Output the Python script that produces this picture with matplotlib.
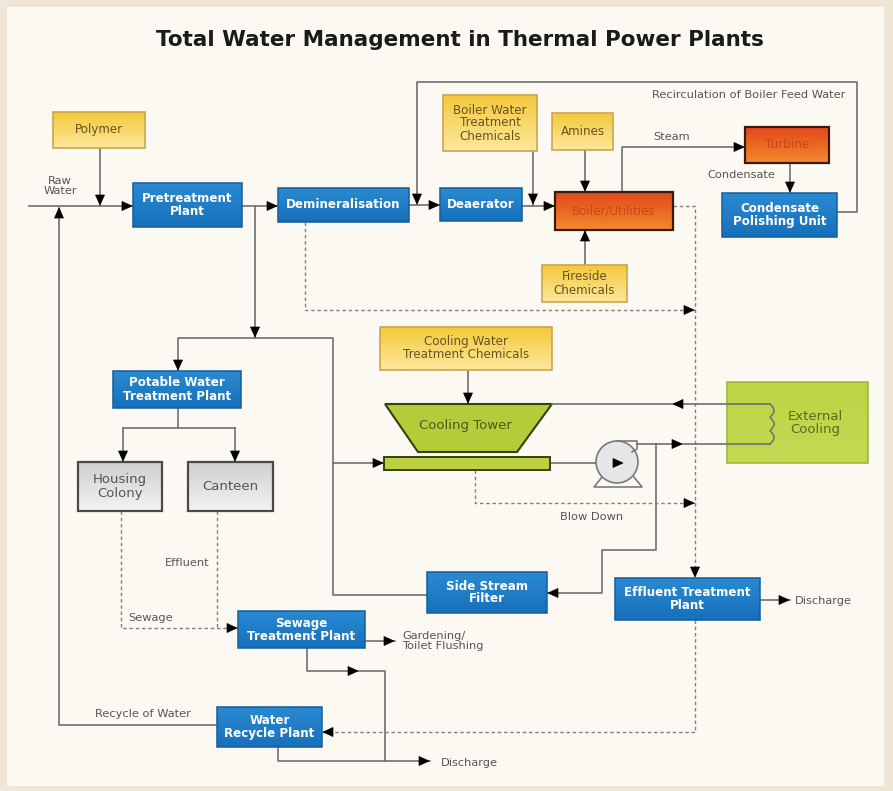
import numpy as np
import matplotlib
matplotlib.use("Agg")
import matplotlib.pyplot as plt
from matplotlib.patches import Rectangle, Polygon, Circle
from matplotlib.colors import LinearSegmentedColormap

plt.rcParams['font.family'] = ['DejaVu Sans']

# --- content: node labels and flow labels ---
TITLE = "Total Water Management in Thermal Power Plants"

node_keys = ["polymer", "pretreat", "demin", "deaerator", "bwtc", "amines",
             "boiler", "fireside", "turbine", "cpu", "potable", "housing",
             "canteen", "cwtc", "extcool", "ssf", "etp", "stp", "wrp"]
node_labels = ["Polymer", "Pretreatment\nPlant", "Demineralisation", "Deaerator",
               "Boiler Water\nTreatment\nChemicals", "Amines", "Boiler/Utilities",
               "Fireside\nChemicals", "Turbine", "Condensate\nPolishing Unit",
               "Potable Water\nTreatment Plant", "Housing\nColony", "Canteen",
               "Cooling Water\nTreatment Chemicals", "External\nCooling",
               "Side Stream\nFilter", "Effluent Treatment\nPlant",
               "Sewage\nTreatment Plant", "Water\nRecycle Plant"]
node_kinds = ["chem", "unit", "unit", "unit", "chem", "chem", "hot", "chem",
              "hot", "unit", "unit", "user", "user", "chem", "green", "unit",
              "unit", "unit", "unit"]

flow_labels = ["Raw\nWater", "Recirculation of Boiler Feed Water", "Steam",
               "Condensate", "Blow Down", "Effluent", "Sewage",
               "Gardening/\nToilet Flushing", "Recycle of Water", "Discharge",
               "Discharge"]

# --- layout (pixel coordinates, y downwards) ---
BOX = {
    "polymer": (53, 112, 145, 148), "pretreat": (133, 183, 242, 227),
    "demin": (278, 188, 409, 222), "deaerator": (440, 188, 522, 221),
    "bwtc": (443, 95, 537, 151), "amines": (552, 113, 613, 150),
    "boiler": (555, 192, 673, 230), "fireside": (542, 265, 627, 302),
    "turbine": (745, 127, 829, 163), "cpu": (722, 193, 837, 237),
    "potable": (113, 371, 241, 408), "housing": (78, 462, 162, 511),
    "canteen": (188, 462, 273, 511), "cwtc": (380, 327, 552, 370),
    "extcool": (727, 382, 868, 463), "ssf": (427, 572, 547, 613),
    "etp": (615, 578, 760, 620), "stp": (238, 611, 365, 648),
    "wrp": (217, 707, 322, 747),
}
LABEL_POS = [(60, 186), (845, 95), (672, 137), (775, 175), (592, 517),
             (210, 563), (128, 618), (402, 641), (143, 714), (795, 601),
             (441, 763)]
LABEL_HA = ["center", "right", "center", "right", "center", "right", "left",
            "left", "center", "left", "left"]

STYLE = {
    "unit": dict(top="#2a8ad2", bot="#1670ba", edge="#145f9c", text="white",
                 weight="bold", size=8.6),
    "chem": dict(top="#f4c93c", bot="#fde89c", edge="#c9a046", text="#6b5222",
                 weight="normal", size=8.6),
    "hot": dict(top="#e2481a", bot="#f38a2c", edge="#3a1a0a", text="#c8461c",
                weight="normal", size=8.6),
    "user": dict(top="#cfcfcf", bot="#f3f3f3", edge="#4a4a4a", text="#555555",
                 weight="normal", size=9.5),
    "green": dict(top="#bcd444", bot="#c4da52", edge="#9ab43a", text="#5a6a20",
                  weight="normal", size=9.5),
}

LINE = "#707070"
DASH = "#808080"


def grad_box(ax, x0, y0, x1, y1, top, bot, edge, lw=1.2):
    cmap = LinearSegmentedColormap.from_list("g", [top, bot])
    grad = np.linspace(0, 1, 64).reshape(-1, 1)
    im = ax.imshow(grad, cmap=cmap, extent=(x0, x1, y1, y0), aspect="auto",
                   interpolation="bicubic", zorder=3)
    rect = Rectangle((x0, y0), x1 - x0, y1 - y0, facecolor="none",
                     edgecolor=edge, lw=lw, zorder=4)
    ax.add_patch(rect)
    im.set_clip_path(rect)


def pipe(ax, pts, dashed=False, z=2):
    xs, ys = zip(*pts)
    if dashed:
        ax.plot(xs, ys, color=DASH, lw=1.0, ls=(0, (2.5, 2)), zorder=z)
    else:
        ax.plot(xs, ys, color=LINE, lw=1.2, zorder=z)


def arrow(ax, x, y, d, L=10, W=4.5):
    vec = {"r": (1, 0), "l": (-1, 0), "d": (0, 1), "u": (0, -1)}[d]
    dx, dy = vec
    bx, by = x - dx * L, y - dy * L
    px, py = -dy * W, dx * W
    tri = Polygon([(x, y), (bx + px, by + py), (bx - px, by - py)],
                  closed=True, facecolor="black", edgecolor="black", lw=0.5,
                  zorder=6)
    ax.add_patch(tri)


fig = plt.figure(figsize=(8.93, 7.91), dpi=100)
ax = fig.add_axes([0, 0, 1, 1])
ax.set_axis_off()
fig.patch.set_facecolor("#efe6d6")
ax.add_patch(Rectangle((7, 7), 877, 779, facecolor="#fbf9f1", edgecolor="none",
                       zorder=0))

ax.text(460, 40, TITLE, ha="center", va="center", fontsize=15.5,
        fontweight="bold", color="#1a1a1a")

# --- solid pipes ---
solid = [
    [(29, 206), (133, 206)], [(100, 148), (100, 206)], [(59, 208), (59, 725), (217, 725)],
    [(242, 206), (278, 206)], [(255, 206), (255, 338)],
    [(409, 205), (440, 205)], [(837, 212), (857, 212), (857, 82), (417, 82), (417, 205)],
    [(522, 206), (555, 206)], [(533, 151), (533, 206)], [(585, 150), (585, 192)],
    [(585, 265), (585, 230)], [(622, 192), (622, 147), (745, 147)],
    [(790, 163), (790, 193)],
    [(178, 371), (178, 338), (333, 338), (333, 595), (427, 595)],
    [(333, 463), (384, 463)],
    [(178, 408), (178, 428)], [(123, 428), (235, 428)],
    [(123, 428), (123, 462)], [(235, 428), (235, 462)],
    [(550, 463), (600, 463)],
    [(656, 444), (656, 550), (602, 550), (602, 593), (547, 593)],
    [(365, 641), (395, 641)], [(307, 648), (307, 671), (385, 671), (385, 761)],
    [(278, 747), (278, 761), (430, 761)], [(760, 600), (790, 600)],
]
for p in solid:
    pipe(ax, p)

# cooling water loop through the external cooler (drawn over the box)
pipe(ax, [(637, 444), (770, 444)], z=5)
pipe(ax, [(770, 404), (552, 404)], z=5)

dashed = [
    [(673, 206), (695, 206), (695, 578)],
    [(305, 222), (305, 310), (695, 310)],
    [(475, 470), (475, 503), (695, 503)],
    [(121, 511), (121, 628), (238, 628)], [(217, 511), (217, 628)],
    [(695, 620), (695, 732), (322, 732)],
]
for p in dashed:
    pipe(ax, p, dashed=True)

arrows = [
    (100, 205, "d"), (132, 206, "r"), (59, 208, "u"), (277, 206, "r"),
    (255, 337, "d"), (439, 205, "r"), (417, 204, "d"), (554, 206, "r"),
    (533, 204, "d"), (585, 191, "d"), (585, 231, "u"), (744, 147, "r"),
    (790, 192, "d"), (695, 577, "d"), (694, 310, "r"), (178, 370, "d"),
    (123, 461, "d"), (235, 461, "d"), (383, 463, "r"), (623, 463, "r"),
    (682, 444, "r"), (673, 404, "l"), (548, 593, "l"), (694, 503, "r"),
    (237, 628, "r"), (394, 641, "r"), (358, 671, "r"), (323, 732, "l"),
    (429, 761, "r"), (789, 600, "r"),
]

# --- boxes ---
for key, label, kind in zip(node_keys, node_labels, node_kinds):
    x0, y0, x1, y1 = BOX[key]
    st = STYLE[kind]
    lw = 1.6 if kind in ("hot", "user") else 1.1
    grad_box(ax, x0, y0, x1, y1, st["top"], st["bot"], st["edge"], lw)
    cx, cy = (x0 + x1) / 2, (y0 + y1) / 2
    if key == "extcool":
        cx += 18
    ax.text(cx, cy, label, ha="center", va="center", color=st["text"],
            fontsize=st["size"], fontweight=st["weight"], linespacing=1.0,
            zorder=5)

# cooling tower and basin
ax.add_patch(Polygon([(385, 404), (552, 404), (517, 452), (418, 452)], closed=True,
                     facecolor="#b5cb3a", edgecolor="#34420e", lw=1.5, zorder=4))
ax.text(465, 425, "Cooling Tower", ha="center", va="center", fontsize=9.5,
        color="#4a5a18", zorder=5)
ax.add_patch(Rectangle((384, 457), 166, 13, facecolor="#bcd040", edgecolor="#34420e",
                       lw=1.4, zorder=4))
pipe(ax, [(468, 370), (468, 404)])
arrows.append((468, 403, "d"))

# pump
ax.add_patch(Circle((617, 462), 21, facecolor="#e6e6e8", edgecolor="#7a7a7a",
                    lw=1.2, zorder=4))
ax.plot([617, 637, 637, 632], [441, 441, 449, 452], color="#7a7a7a", lw=1.2, zorder=4)
ax.plot([602, 594, 642, 634], [477, 487, 487, 477], color="#7a7a7a", lw=1.2, zorder=3)

# external cooling coil
t = np.linspace(0, 1, 200)
coil_y = 404 + 40 * t
coil_x = 770 + 4 * np.abs(np.sin(3 * np.pi * t))
ax.plot(coil_x, coil_y, color=LINE, lw=1.1, zorder=5)

for a in arrows:
    arrow(ax, *a)

for txt, (x, y), ha in zip(flow_labels, LABEL_POS, LABEL_HA):
    ax.text(x, y, txt, ha=ha, va="center", fontsize=8.2, color="#555555",
            linespacing=1.05, zorder=5)

ax.set_xlim(0, 893)
ax.set_ylim(791, 0)
fig.savefig("out.png", dpi=100, facecolor=fig.get_facecolor())
